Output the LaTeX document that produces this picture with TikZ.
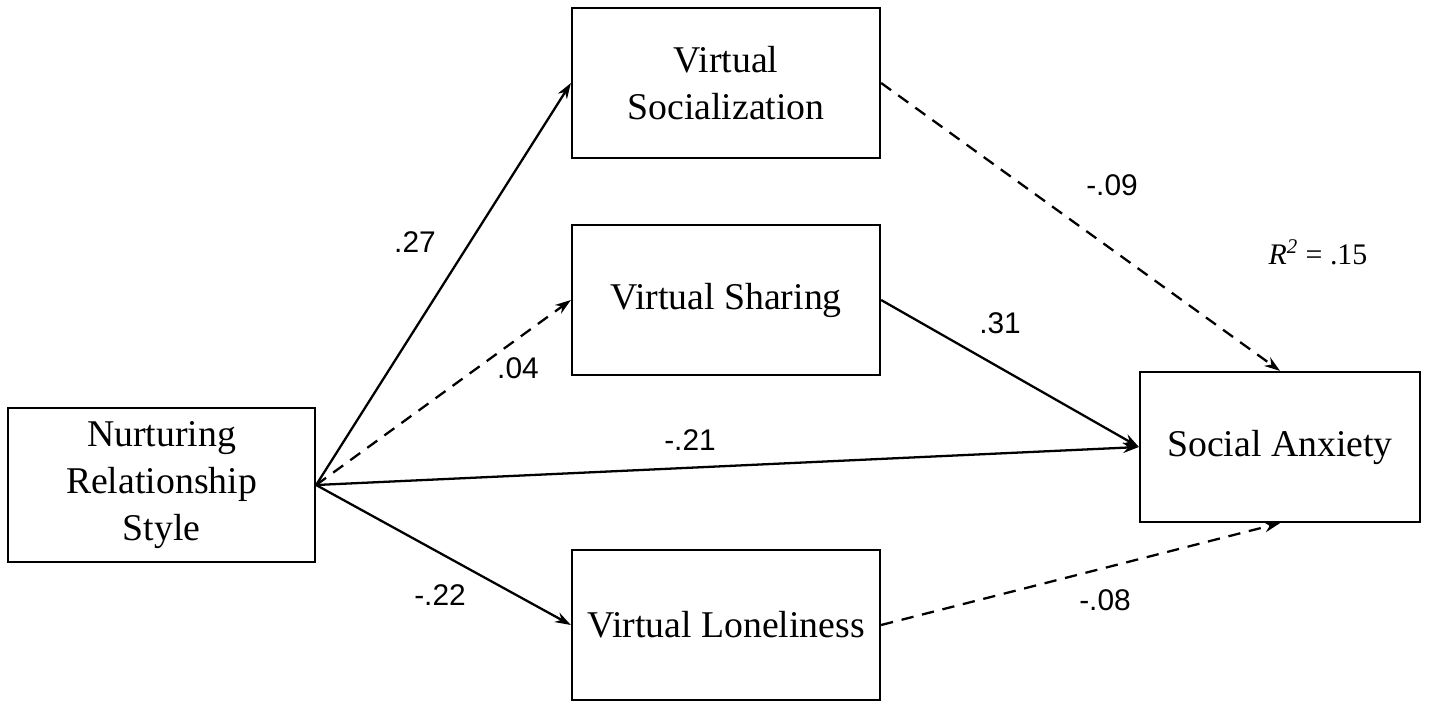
\documentclass[tikz,border=0pt]{standalone}
\usepackage{fontspec}
\setmainfont{Liberation Serif}
\newfontfamily\lab{Liberation Sans}
\usetikzlibrary{arrows.meta}
\begin{document}
\begin{tikzpicture}[x=0.02cm,y=-0.02cm,
  box/.style={draw,line width=1.3pt,align=center,font=\fontsize{21.5}{27}\selectfont,inner sep=0pt},
  arr/.style={line width=1.3pt,-{Stealth[length=9pt,width=6pt]}},
  dsh/.style={arr,dash pattern=on 7pt off 5pt},
  lb/.style={font=\lab\fontsize{17}{20}\selectfont}]
\useasboundingbox (0,0) rectangle (1429,710);
\node[box,minimum width=6.14cm,minimum height=3.08cm] (n) at (161.5,485) {Nurturing\\Relationship\\Style};
\node[box,minimum width=6.16cm,minimum height=3cm] (soc) at (726,83) {Virtual\\Socialization};
\node[box,minimum width=6.16cm,minimum height=3cm] (sh) at (726,300) {Virtual Sharing};
\node[box,minimum width=6.16cm,minimum height=3cm] (lo) at (726,625) {Virtual Loneliness};
\node[box,minimum width=5.6cm,minimum height=3cm] (sa) at (1280,447) {Social Anxiety};
\draw[arr] (n.east) -- (soc.west);
\draw[dsh] (n.east) -- (sh.west);
\draw[arr] (n.east) -- (sa.west);
\draw[arr] (n.east) -- (lo.west);
\draw[dsh] (soc.east) -- (sa.north);
\draw[arr] (sh.east) -- (sa.west);
\draw[dsh] (lo.east) -- (sa.south);
\node[lb] (l1) at (415,242) {.27};
\node[lb] (l2) at (518,368) {.04};
\node[lb] (l3) at (690,440) {-.21};
\node[lb] (l4) at (440,595) {-.22};
\node[lb] (l5) at (1112,185) {-.09};
\node[lb] (l6) at (1000,323) {.31};
\node[lb] (l7) at (1105,600) {-.08};
\node[font=\fontsize{17}{20}\selectfont] (r2) at (1318,252) {\textit{R}\textsuperscript{\textit{2}} = .15};
\end{tikzpicture}
\end{document}
